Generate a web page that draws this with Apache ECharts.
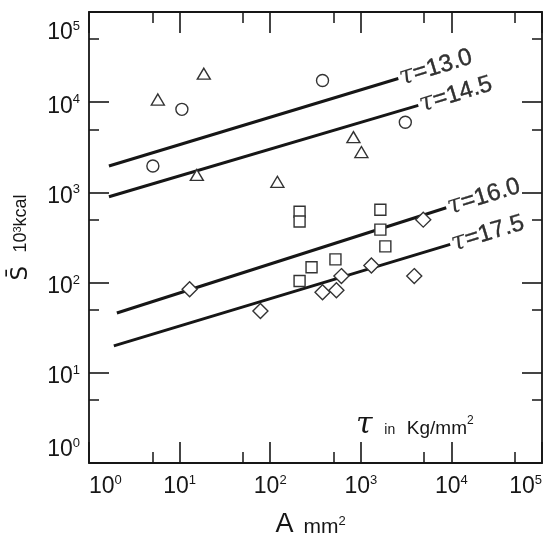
<!DOCTYPE html>
<html>
<head>
<meta charset="utf-8">
<script src="https://cdn.jsdelivr.net/npm/echarts@6/dist/echarts.min.js"></script>
<style>
  html, body { margin: 0; padding: 0; background: #fff; }
  #chart { width: 546px; height: 545px; }
</style>
</head>
<body>
<div id="chart"></div>
<script>
// 読み取り値（A: mm², S: 10^3 kcal）
const triA = [5.75, 18.5, 15.5, 120, 829, 1015];
const triS = [10700, 20700, 1560, 1310, 4100, 2800];
const cirA = [10.6, 5.07, 378, 3100];
const cirS = [8330, 1963, 17400, 6000];
const sqA = [211, 211, 1644, 1644, 1866, 525, 286, 211];
const sqS = [611, 475, 643, 387, 252, 181, 148, 104];
const diaA = [12.9, 78, 378, 538, 611, 1309, 3890, 4890];
const diaS = [84.6, 48.4, 78, 82.5, 118, 155, 118, 499];

// τ ごとの回帰直線（始点・終点）
const tauNames = ['13.0', '14.5', '16.0', '17.5'];
const lineA0 = [1.66, 1.66, 2.03, 1.88];
const lineS0 = [1963, 895, 46, 19.9];
const lineA1 = [2595, 4310, 8770, 9700];
const lineS1 = [18300, 9220, 676, 265];

// 補助目盛（5×10^n の位置, log10）
const minorLog = [0.699, 1.699, 2.699, 3.699, 4.699];

const INK = '#161616';
const MARK = '#333';
const FONT = '"Liberation Sans", Arial, sans-serif';

const zip = (xs, ys) => xs.map((x, i) => [x, ys[i]]);
const powLabel = (v) => '{b|10}{s|' + Math.round(Math.log10(v)) + '}';
const powRich = {
  b: { fontSize: 23, lineHeight: 26, color: INK, fontFamily: FONT },
  s: { fontSize: 13, lineHeight: 14, color: INK, fontFamily: FONT, verticalAlign: 'top' },
};

const chart = echarts.init(document.getElementById('chart'), null, { renderer: 'canvas' });

const lineBase = { lineStyle: { color: INK, width: 1.8 } };
const majorTick = (len) => ({ inside: true, length: len, lineStyle: { color: INK, width: 1.6 } });
const minorAxis = (pos, len) => ({
  type: 'value', min: 0, max: 5, position: pos,
  axisLine: { show: false, onZero: false },
  axisTick: { inside: true, length: len, customValues: minorLog, lineStyle: { color: INK, width: 1.5 } },
  axisLabel: { show: false },
  splitLine: { show: false },
});

const lineSeries = tauNames.map((t, i) => ({
  type: 'line',
  xAxisIndex: 0, yAxisIndex: 0,
  data: [[lineA0[i], lineS0[i]], [lineA1[i], lineS1[i]]],
  symbol: 'none',
  lineStyle: { color: INK, width: 3 },
  z: 2,
  silent: true,
}));

const hollow = (name, symbol, size, xs, ys) => ({
  name, type: 'scatter', xAxisIndex: 0, yAxisIndex: 0,
  data: zip(xs, ys), symbol, symbolSize: size,
  itemStyle: { color: '#fff', borderColor: MARK, borderWidth: 1.4, opacity: 1 },
  z: 4,
});

chart.setOption({
  backgroundColor: '#fff',
  animation: false,
  grid: { left: 88, right: 4, top: 12, bottom: 78 },
  xAxis: [
    {
      type: 'log', logBase: 10, min: 1, max: 100000, position: 'bottom',
      axisLine: { onZero: false, ...lineBase },
      axisTick: majorTick(21),
      axisLabel: { formatter: powLabel, rich: powRich, margin: 11, alignMinLabel: 'left', alignMaxLabel: 'right' },
      splitLine: { show: false },
      name: '{a|A}   {m|mm}{p|2}',
      nameLocation: 'middle',
      nameGap: 47,
      nameTextStyle: {
        padding: [0, 10, 0, 0],
        rich: {
          a: { fontSize: 27, color: INK, fontFamily: FONT, lineHeight: 30 },
          m: { fontSize: 21, color: INK, fontFamily: FONT, lineHeight: 30, verticalAlign: 'bottom', padding: [0, 0, 2, 0] },
          p: { fontSize: 13, color: INK, fontFamily: FONT, lineHeight: 14, verticalAlign: 'top', padding: [5, 0, 0, 0] },
        },
      },
    },
    minorAxis('bottom', 11),
    {
      type: 'log', logBase: 10, min: 1, max: 100000, position: 'top',
      axisLine: { onZero: false, ...lineBase },
      axisTick: majorTick(21),
      axisLabel: { show: false },
      splitLine: { show: false },
    },
    minorAxis('top', 11),
  ],
  yAxis: [
    {
      type: 'log', logBase: 10, min: 1, max: 100000, position: 'left',
      axisLine: { onZero: false, ...lineBase },
      axisTick: majorTick(20),
      axisLabel: {
        formatter: powLabel, rich: powRich, margin: 9, padding: [8, 0, 0, 0],
        verticalAlignMinLabel: 'bottom', verticalAlignMaxLabel: 'top',
      },
      splitLine: { show: false },
      name: '{s|S\u0304}    {b|10}{p|3}{b|kcal}',
      nameLocation: 'middle',
      nameRotate: 90,
      nameGap: 55,
      nameTextStyle: {
        rich: {
          s: { fontSize: 23, color: INK, fontFamily: '"DejaVu Sans", sans-serif', lineHeight: 26 },
          b: { fontSize: 18, color: INK, fontFamily: FONT, lineHeight: 26 },
          p: { fontSize: 11, color: INK, fontFamily: FONT, lineHeight: 12, verticalAlign: 'top', padding: [4, 0, 0, 0] },
        },
      },
    },
    minorAxis('left', 10),
    {
      type: 'log', logBase: 10, min: 1, max: 100000, position: 'right',
      axisLine: { onZero: false, ...lineBase },
      axisTick: majorTick(20),
      axisLabel: { show: false },
      splitLine: { show: false },
    },
    minorAxis('right', 10),
  ],
  graphic: [{
    type: 'text',
    left: 356,
    top: 410,
    style: {
      text: '{t|τ}{i|   in   }{k|Kg/mm}{s|2}',
      rich: {
        t: { fontSize: 30, fill: INK, fontFamily: '"DejaVu Serif", serif', fontStyle: 'italic', lineHeight: 28 },
        i: { fontSize: 14, fill: INK, fontFamily: FONT, lineHeight: 28, verticalAlign: 'bottom', padding: [0, 0, 2, 0] },
        k: { fontSize: 19, fill: INK, fontFamily: FONT, lineHeight: 28, verticalAlign: 'bottom', padding: [0, 0, 1, 0] },
        s: { fontSize: 12, fill: INK, fontFamily: FONT, lineHeight: 12, verticalAlign: 'top', padding: [4, 0, 0, 0] },
      },
    },
  }],
  series: [
    ...lineSeries,
    hollow('tri', 'triangle', [13, 11], triA, triS),
    hollow('cir', 'circle', 12, cirA, cirS),
    hollow('sq', 'rect', 11, sqA, sqS),
    hollow('dia', 'diamond', 15, diaA, diaS),
    {
      // 直線の端に τ ラベル
      type: 'scatter', xAxisIndex: 0, yAxisIndex: 0,
      data: zip(lineA1, lineS1),
      symbol: 'circle', symbolSize: 1,
      itemStyle: { color: 'transparent' },
      silent: true,
      z: 5,
      label: {
        show: true,
        position: 'right',
        distance: 1,
        rotate: 17,
        formatter: (p) => '{t|τ}{n|=' + tauNames[p.dataIndex] + '}',
        rich: {
          t: { fontSize: 26, color: '#000', fontFamily: '"DejaVu Serif", serif', fontStyle: 'italic' },
          n: { fontSize: 24, color: '#000', fontFamily: FONT, textBorderColor: '#000', textBorderWidth: 0.4 },
        },
      },
    },
  ],
});

window.addEventListener('resize', () => chart.resize());
</script>
</body>
</html>
